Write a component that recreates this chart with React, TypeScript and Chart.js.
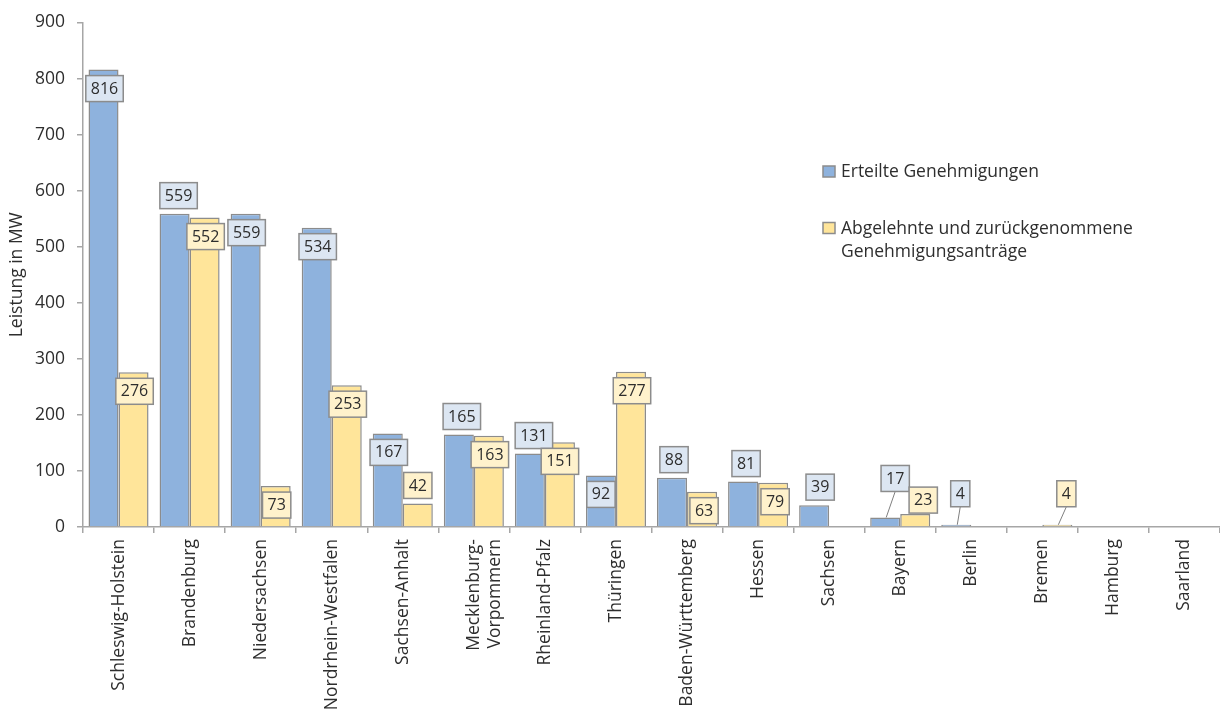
import { useEffect, useRef } from 'react';
import { Chart, registerables } from 'chart.js';

Chart.register(...registerables);

// Bundesländer on the category axis
const categories: (string | string[])[] = [
  'Schleswig-Holstein',
  'Brandenburg',
  'Niedersachsen',
  'Nordrhein-Westfalen',
  'Sachsen-Anhalt',
  ['Mecklenburg-', 'Vorpommern'],
  'Rheinland-Pfalz',
  'Thüringen',
  'Baden-Württemberg',
  'Hessen',
  'Sachsen',
  'Bayern',
  'Berlin',
  'Bremen',
  'Hamburg',
  'Saarland',
];

// Leistung in MW
const erteilteGenehmigungen = [816, 559, 559, 534, 167, 165, 131, 92, 88, 81, 39, 17, 4, 0, 0, 0];
const abgelehnteAntraege = [276, 552, 73, 253, 42, 163, 151, 277, 63, 79, 0, 23, 0, 4, 0, 0];

const seriesNames = ['Erteilte Genehmigungen', 'Abgelehnte und zurückgenommene Genehmigungsanträge'];
const legendLines = [['Erteilte Genehmigungen'], ['Abgelehnte und zurückgenommene', 'Genehmigungsanträge']];

const yMin = 0;
const yMax = 900;
const yStep = 100;

const FONT = "'Open Sans', 'Noto Sans', sans-serif";
const TEXT = '#2e2e2e';
const AXIS = '#a6a6a6';
const BAR_BORDER = '#8c8c8c';
const BLUE = '#8eb2dd';
const YELLOW = '#ffe59a';
const BLUE_BOX = '#dce6f2';
const YELLOW_BOX = '#fff2cc';

// Value label placement: 'in' = just below the bar top, 'out' = above the bar,
// 'call' = raised box with a leader line down to the bar.
type Place = { mode: 'in' | 'out' | 'call'; dx?: number; gap?: number };
const bluePlacement: Place[] = [
  { mode: 'in', dx: 1 },
  { mode: 'out', dx: 4 },
  { mode: 'in', dx: 1 },
  { mode: 'in', dx: 1 },
  { mode: 'in', dx: 1 },
  { mode: 'out', dx: 3 },
  { mode: 'out', dx: 4 },
  { mode: 'in', dx: 0 },
  { mode: 'out', dx: 2 },
  { mode: 'out', dx: 3 },
  { mode: 'out', dx: 6 },
  { mode: 'call', dx: 10, gap: 26 },
  { mode: 'call', dx: 4, gap: 18 },
  { mode: 'in' },
  { mode: 'in' },
  { mode: 'in' },
];
const yellowPlacement: Place[] = [
  { mode: 'in', dx: 1 },
  { mode: 'in', dx: 1 },
  { mode: 'in', dx: 1 },
  { mode: 'in', dx: 1 },
  { mode: 'out', dx: 0 },
  { mode: 'in', dx: 1 },
  { mode: 'in', dx: 0 },
  { mode: 'in', dx: 1 },
  { mode: 'in', dx: 2 },
  { mode: 'in', dx: 2 },
  { mode: 'in' },
  { mode: 'out', dx: 8, gap: 1 },
  { mode: 'in' },
  { mode: 'call', dx: 9, gap: 18 },
  { mode: 'in' },
  { mode: 'in' },
];

const valueLabels = {
  id: 'valueLabels',
  afterDatasetsDraw(chart: any) {
    const ctx: CanvasRenderingContext2D = chart.ctx;
    const placements = [bluePlacement, yellowPlacement];
    const fills = [BLUE_BOX, YELLOW_BOX];
    ctx.save();
    ctx.font = `16px ${FONT}`;
    ctx.textAlign = 'center';
    ctx.textBaseline = 'middle';
    chart.data.datasets.forEach((ds: any, d: number) => {
      const meta = chart.getDatasetMeta(d);
      meta.data.forEach((el: any, i: number) => {
        const v = ds.data[i];
        if (!v) return;
        const p = placements[d][i];
        const text = String(v);
        const w = ctx.measureText(text).width + 10;
        const h = 26;
        const cx = el.x + (p.dx ?? 0);
        let top: number;
        if (p.mode === 'in') top = el.y + 6;
        else if (p.mode === 'out') top = el.y - (p.gap ?? 5) - h;
        else top = el.y - (p.gap ?? 18) - h;
        if (p.mode === 'call') {
          ctx.strokeStyle = '#7f7f7f';
          ctx.lineWidth = 1;
          ctx.beginPath();
          ctx.moveTo(cx, top + h);
          ctx.lineTo(el.x + 1, el.y);
          ctx.stroke();
        }
        ctx.fillStyle = fills[d];
        ctx.fillRect(cx - w / 2, top, w, h);
        ctx.strokeStyle = BAR_BORDER;
        ctx.lineWidth = 1.5;
        ctx.strokeRect(cx - w / 2, top, w, h);
        ctx.fillStyle = TEXT;
        ctx.fillText(text, cx, top + h / 2 + 0.5);
      });
    });
    ctx.restore();
  },
};

const sideLegend = {
  id: 'sideLegend',
  afterDraw(chart: any) {
    const ctx: CanvasRenderingContext2D = chart.ctx;
    const colors = [BLUE, YELLOW];
    const baselines = [177, 233.5];
    ctx.save();
    ctx.font = `17.5px ${FONT}`;
    ctx.textAlign = 'left';
    ctx.textBaseline = 'alphabetic';
    legendLines.forEach((lines, k) => {
      const b = baselines[k];
      ctx.fillStyle = colors[k];
      ctx.fillRect(823, b - 11, 12, 11);
      ctx.strokeStyle = BAR_BORDER;
      ctx.lineWidth = 1.5;
      ctx.strokeRect(823, b - 11, 12, 11);
      ctx.fillStyle = TEXT;
      lines.forEach((line, j) => ctx.fillText(line, 841, b + j * 23.5));
    });
    ctx.restore();
  },
};

export default function App() {
  const canvasRef = useRef<HTMLCanvasElement | null>(null);

  useEffect(() => {
    if (!canvasRef.current) return;
    const chart = new Chart(canvasRef.current, {
      type: 'bar',
      data: {
        labels: categories as any,
        datasets: [
          {
            label: seriesNames[0],
            data: erteilteGenehmigungen,
            backgroundColor: BLUE,
            borderColor: BAR_BORDER,
            borderWidth: 1.5,
            categoryPercentage: 0.845,
            barPercentage: 1,
          },
          {
            label: seriesNames[1],
            data: abgelehnteAntraege,
            backgroundColor: YELLOW,
            borderColor: BAR_BORDER,
            borderWidth: 1.5,
            categoryPercentage: 0.845,
            barPercentage: 1,
          },
        ],
      },
      options: {
        animation: false,
        responsive: false,
        devicePixelRatio: 1,
        layout: { padding: { top: 20, right: 0, bottom: 0, left: 0 } },
        plugins: {
          legend: { display: false },
          tooltip: { enabled: false },
        },
        scales: {
          x: {
            afterFit: (scale: any) => {
              scale.height = 188;
            },
            grid: {
              drawOnChartArea: false,
              drawTicks: true,
              tickLength: 6,
              color: AXIS,
              lineWidth: 1.5,
            },
            border: { display: true, color: AXIS, width: 1.5 },
            ticks: {
              autoSkip: false,
              minRotation: 90,
              maxRotation: 90,
              padding: 6,
              color: TEXT,
              font: { family: FONT, size: 17.5 },
            },
          },
          y: {
            min: yMin,
            max: yMax,
            afterFit: (scale: any) => {
              scale.width = 83;
            },
            grid: {
              drawOnChartArea: false,
              drawTicks: true,
              tickLength: 6,
              color: AXIS,
              lineWidth: 1.5,
            },
            border: { display: true, color: AXIS, width: 1.5 },
            ticks: {
              stepSize: yStep,
              padding: 12,
              color: TEXT,
              font: { family: FONT, size: 17.5 },
            },
            title: {
              display: true,
              text: 'Leistung in MW',
              color: TEXT,
              font: { family: FONT, size: 17.5 },
              padding: { top: 7, bottom: 0 },
            },
          },
        },
      },
      plugins: [valueLabels, sideLegend],
    });
    return () => chart.destroy();
  }, []);

  return (
    <div style={{ position: 'fixed', left: 0, top: 0, width: 1220, height: 715, background: '#fff' }}>
      <canvas ref={canvasRef} width={1220} height={715} />
    </div>
  );
}
